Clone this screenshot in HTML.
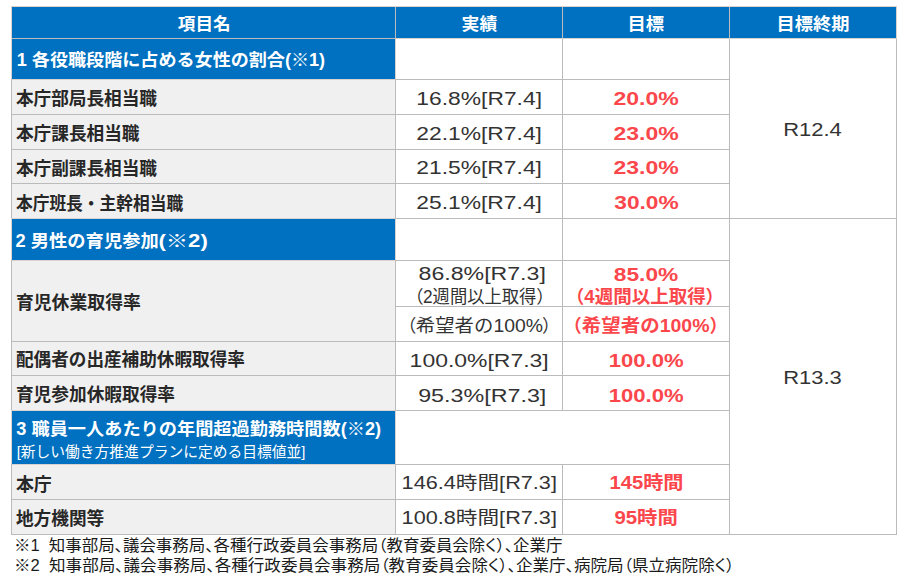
<!DOCTYPE html>
<html lang="ja"><head><meta charset="utf-8"><title>table</title>
<style>
html,body{margin:0;padding:0;background:#fff;}
body{width:905px;height:577px;overflow:hidden;font-family:"Liberation Sans",sans-serif;}
svg{display:block;position:absolute;left:0;top:0;}
.sr{position:absolute;left:0;top:0;width:1px;height:1px;overflow:hidden;opacity:0;font-size:1px;color:transparent;pointer-events:none;}
</style></head><body>
<svg width="905" height="577" viewBox="0 0 905 577" shape-rendering="crispEdges">
<rect width="905" height="577" fill="#fff"/>
<rect x="12" y="7" width="884" height="31" fill="#0070c0"/>
<rect x="12" y="39" width="383" height="40" fill="#0070c0"/>
<rect x="12" y="219" width="383" height="41" fill="#0070c0"/>
<rect x="12" y="411" width="383" height="53" fill="#0070c0"/>
<rect x="12" y="80" width="383" height="138" fill="#f0f0f0"/>
<rect x="12" y="261" width="383" height="149" fill="#f0f0f0"/>
<rect x="12" y="465" width="383" height="69" fill="#f0f0f0"/>
<rect x="11" y="534" width="886" height="1" fill="#babbbd"/>
<rect x="11" y="6" width="1" height="529" fill="#babbbd"/>
<rect x="896" y="6" width="1" height="529" fill="#babbbd"/>
<rect x="395" y="6" width="1" height="529" fill="#babbbd"/>
<rect x="562" y="6" width="1" height="405" fill="#babbbd"/>
<rect x="562" y="464" width="1" height="71" fill="#babbbd"/>
<rect x="729" y="6" width="1" height="529" fill="#babbbd"/>
<rect x="11" y="114" width="719" height="1" fill="#babbbd"/>
<rect x="11" y="149" width="719" height="1" fill="#babbbd"/>
<rect x="11" y="183" width="719" height="1" fill="#babbbd"/>
<rect x="11" y="341" width="719" height="1" fill="#babbbd"/>
<rect x="11" y="375" width="719" height="1" fill="#babbbd"/>
<rect x="11" y="499" width="719" height="1" fill="#babbbd"/>
<rect x="11" y="38" width="719" height="1" fill="#babbbd"/>
<rect x="11" y="79" width="719" height="1" fill="#babbbd"/>
<rect x="11" y="218" width="719" height="1" fill="#babbbd"/>
<rect x="11" y="260" width="719" height="1" fill="#babbbd"/>
<rect x="11" y="410" width="719" height="1" fill="#babbbd"/>
<rect x="11" y="464" width="719" height="1" fill="#babbbd"/>
<rect x="11" y="38" width="886" height="1" fill="#babbbd"/>
<rect x="11" y="218" width="886" height="1" fill="#babbbd"/>
<rect x="395" y="306" width="335" height="1" fill="#babbbd"/>
<rect x="11" y="6" width="886" height="1" fill="#d9d2cf"/>
<rect x="396" y="38" width="501" height="1" fill="#d9d2cf"/>
<rect x="896" y="6" width="1" height="32" fill="#d9d2cf"/>
<rect x="11" y="6" width="1" height="73" fill="#d9d2cf"/>
<rect x="11" y="218" width="1" height="42" fill="#d9d2cf"/>
<rect x="11" y="410" width="1" height="54" fill="#d9d2cf"/>
<rect x="395" y="39" width="1" height="40" fill="#d9d2cf"/>
<rect x="395" y="219" width="1" height="41" fill="#d9d2cf"/>
<rect x="395" y="411" width="1" height="53" fill="#d9d2cf"/>
<rect x="12" y="79" width="383" height="1" fill="#d9d2cf"/>
<rect x="12" y="218" width="383" height="1" fill="#d9d2cf"/>
<rect x="12" y="260" width="383" height="1" fill="#d9d2cf"/>
<rect x="12" y="410" width="383" height="1" fill="#d9d2cf"/>
<rect x="12" y="464" width="383" height="1" fill="#d9d2cf"/>
</svg>
<svg width="905" height="577" viewBox="0 0 905 577" font-family="&quot;Liberation Sans&quot;, &quot;Noto Sans CJK JP&quot;, sans-serif">
<g fill="#fff" font-weight="bold" font-size="17.6">
<text x="177.84" y="30.30" textLength="52.8" lengthAdjust="spacingAndGlyphs">項目名</text>
<text x="461.56" y="30.30" textLength="35.7" lengthAdjust="spacingAndGlyphs">実績</text>
<text x="627.53" y="30.30" textLength="36.6" lengthAdjust="spacingAndGlyphs">目標</text>
<text x="776.54" y="30.30" textLength="73.1" lengthAdjust="spacingAndGlyphs">目標終期</text>
</g>
<g fill="#fff" font-weight="bold" font-size="17.5">
<text x="16.74" y="66.40" textLength="308.4" lengthAdjust="spacingAndGlyphs">1 各役職段階に占める女性の割合(※1)</text>
<text x="15.55" y="247.20" textLength="143.2" lengthAdjust="spacingAndGlyphs">2 男性の育児参加</text>
<text x="158.41" y="247.20" textLength="49.4" lengthAdjust="spacingAndGlyphs">(※2)</text>
<text x="16.30" y="434.60" textLength="364.8" lengthAdjust="spacingAndGlyphs">3 職員一人あたりの年間超過勤務時間数(※2)</text>
</g>
<text x="16.65" y="456.80" fill="#fff" font-size="15" textLength="288.8" lengthAdjust="spacingAndGlyphs">[新しい働き方推進プランに定める目標値並]</text>
<g fill="#272727" font-weight="bold" font-size="17.7">
<text x="15.93" y="105.30" textLength="141.1" lengthAdjust="spacingAndGlyphs">本庁部局長相当職</text>
<text x="15.93" y="140.05" textLength="123.6" lengthAdjust="spacingAndGlyphs">本庁課長相当職</text>
<text x="15.93" y="174.80" textLength="141.1" lengthAdjust="spacingAndGlyphs">本庁副課長相当職</text>
<text x="15.93" y="209.55" textLength="167.3" lengthAdjust="spacingAndGlyphs">本庁班長・主幹相当職</text>
<text x="15.92" y="308.80" textLength="125.0" lengthAdjust="spacingAndGlyphs">育児休業取得率</text>
<text x="15.93" y="366.30" textLength="229.0" lengthAdjust="spacingAndGlyphs">配偶者の出産補助休暇取得率</text>
<text x="15.93" y="401.30" textLength="159.1" lengthAdjust="spacingAndGlyphs">育児参加休暇取得率</text>
<text x="15.93" y="491.00" textLength="35.8" lengthAdjust="spacingAndGlyphs">本庁</text>
<text x="15.93" y="525.10" textLength="88.3" lengthAdjust="spacingAndGlyphs">地方機関等</text>
</g>
<g fill="#333333" font-size="18">
<text x="416.39" y="104.90" textLength="125.6" lengthAdjust="spacingAndGlyphs">16.8%[R7.4]</text>
<text x="416.27" y="139.65" textLength="125.7" lengthAdjust="spacingAndGlyphs">22.1%[R7.4]</text>
<text x="416.27" y="174.40" textLength="125.7" lengthAdjust="spacingAndGlyphs">21.5%[R7.4]</text>
<text x="416.27" y="209.15" textLength="125.7" lengthAdjust="spacingAndGlyphs">25.1%[R7.4]</text>
<text x="418.56" y="279.70" textLength="127.3" lengthAdjust="spacingAndGlyphs">86.8%[R7.3]</text>
<text x="409.64" y="366.80" textLength="139.1" lengthAdjust="spacingAndGlyphs">100.0%[R7.3]</text>
<text x="418.15" y="401.50" textLength="128.2" lengthAdjust="spacingAndGlyphs">95.3%[R7.3]</text>
<text x="401.61" y="489.00" textLength="155.3" lengthAdjust="spacingAndGlyphs">146.4時間[R7.3]</text>
<text x="401.61" y="524.00" textLength="155.3" lengthAdjust="spacingAndGlyphs">100.8時間[R7.3]</text>
<text x="423.73" y="302.90" font-size="17.6" text-anchor="end">（</text>
<text x="422.97" y="303.00" textLength="113.4" lengthAdjust="spacingAndGlyphs">2週間以上取得</text>
<text x="536.27" y="302.90" font-size="17.6">）</text>
<text x="416.33" y="332.10" font-size="17.6" text-anchor="end">（</text>
<text x="415.87" y="332.10" font-size="17.8" textLength="127.1" lengthAdjust="spacingAndGlyphs">希望者の100%</text>
<text x="542.07" y="332.10" font-size="17.6">）</text>
<text x="783.25" y="135.70" textLength="58.5" lengthAdjust="spacingAndGlyphs">R12.4</text>
<text x="783.24" y="384.20" textLength="58.6" lengthAdjust="spacingAndGlyphs">R13.3</text>
</g>
<g fill="#fb474b" font-weight="bold" font-size="18">
<text x="613.52" y="104.75" textLength="65.2" lengthAdjust="spacingAndGlyphs">20.0%</text>
<text x="613.52" y="139.50" textLength="65.2" lengthAdjust="spacingAndGlyphs">23.0%</text>
<text x="613.52" y="174.25" textLength="65.2" lengthAdjust="spacingAndGlyphs">23.0%</text>
<text x="614.29" y="209.00" textLength="64.4" lengthAdjust="spacingAndGlyphs">30.0%</text>
<text x="613.88" y="280.60" textLength="64.3" lengthAdjust="spacingAndGlyphs">85.0%</text>
<text x="608.73" y="366.90" textLength="74.9" lengthAdjust="spacingAndGlyphs">100.0%</text>
<text x="608.73" y="401.90" textLength="74.9" lengthAdjust="spacingAndGlyphs">100.0%</text>
<text x="609.62" y="488.95" textLength="73.9" lengthAdjust="spacingAndGlyphs">145時間</text>
<text x="614.47" y="523.95" textLength="63.4" lengthAdjust="spacingAndGlyphs">95時間</text>
<text x="584.35" y="302.80" text-anchor="end">（</text>
<text x="584.35" y="302.80" textLength="121.3" lengthAdjust="spacingAndGlyphs">4週間以上取得</text>
<text x="705.62" y="302.80">）</text>
<text x="581.82" y="331.90" text-anchor="end">（</text>
<text x="581.82" y="331.90" textLength="127.7" lengthAdjust="spacingAndGlyphs">希望者の100%</text>
<text x="709.50" y="331.90">）</text>
</g>
<g fill="#1a1a1a" font-size="16" style="font-feature-settings:'palt'">
<text x="14.03" y="551.20" textLength="548.5" lengthAdjust="spacingAndGlyphs">※1&#160;&#160;知事部局、議会事務局、各種行政委員会事務局（教育委員会除く）、企業庁</text>
<text x="14.03" y="570.60" textLength="720.4" lengthAdjust="spacingAndGlyphs">※2&#160;&#160;知事部局、議会事務局、各種行政委員会事務局（教育委員会除く）、企業庁、病院局（県立病院除く）</text>
</g>
</svg>
<div class="sr">
<table>
<tr><th>項目名</th><th>実績</th><th>目標</th><th>目標終期</th></tr>
<tr><th>1 各役職段階に占める女性の割合(※1)</th><td></td><td></td><td rowspan="5">R12.4</td></tr>
<tr><td>本庁部局長相当職</td><td>16.8%[R7.4]</td><td>20.0%</td></tr>
<tr><td>本庁課長相当職</td><td>22.1%[R7.4]</td><td>23.0%</td></tr>
<tr><td>本庁副課長相当職</td><td>21.5%[R7.4]</td><td>23.0%</td></tr>
<tr><td>本庁班長・主幹相当職</td><td>25.1%[R7.4]</td><td>30.0%</td></tr>
<tr><th>2 男性の育児参加(※2)</th><td></td><td></td><td rowspan="9">R13.3</td></tr>
<tr><td rowspan="2">育児休業取得率</td><td>86.8%[R7.3]（2週間以上取得）</td><td>85.0%（4週間以上取得）</td></tr>
<tr><td>（希望者の100%）</td><td>（希望者の100%）</td></tr>
<tr><td>配偶者の出産補助休暇取得率</td><td>100.0%[R7.3]</td><td>100.0%</td></tr>
<tr><td>育児参加休暇取得率</td><td>95.3%[R7.3]</td><td>100.0%</td></tr>
<tr><th>3 職員一人あたりの年間超過勤務時間数(※2) [新しい働き方推進プランに定める目標値並]</th><td colspan="2"></td></tr>
<tr><td>本庁</td><td>146.4時間[R7.3]</td><td>145時間</td></tr>
<tr><td>地方機関等</td><td>100.8時間[R7.3]</td><td>95時間</td></tr>
</table>
<p>※1 知事部局、議会事務局、各種行政委員会事務局（教育委員会除く）、企業庁</p>
<p>※2 知事部局、議会事務局、各種行政委員会事務局（教育委員会除く）、企業庁、病院局（県立病院除く）</p>
</div>
</body></html>
